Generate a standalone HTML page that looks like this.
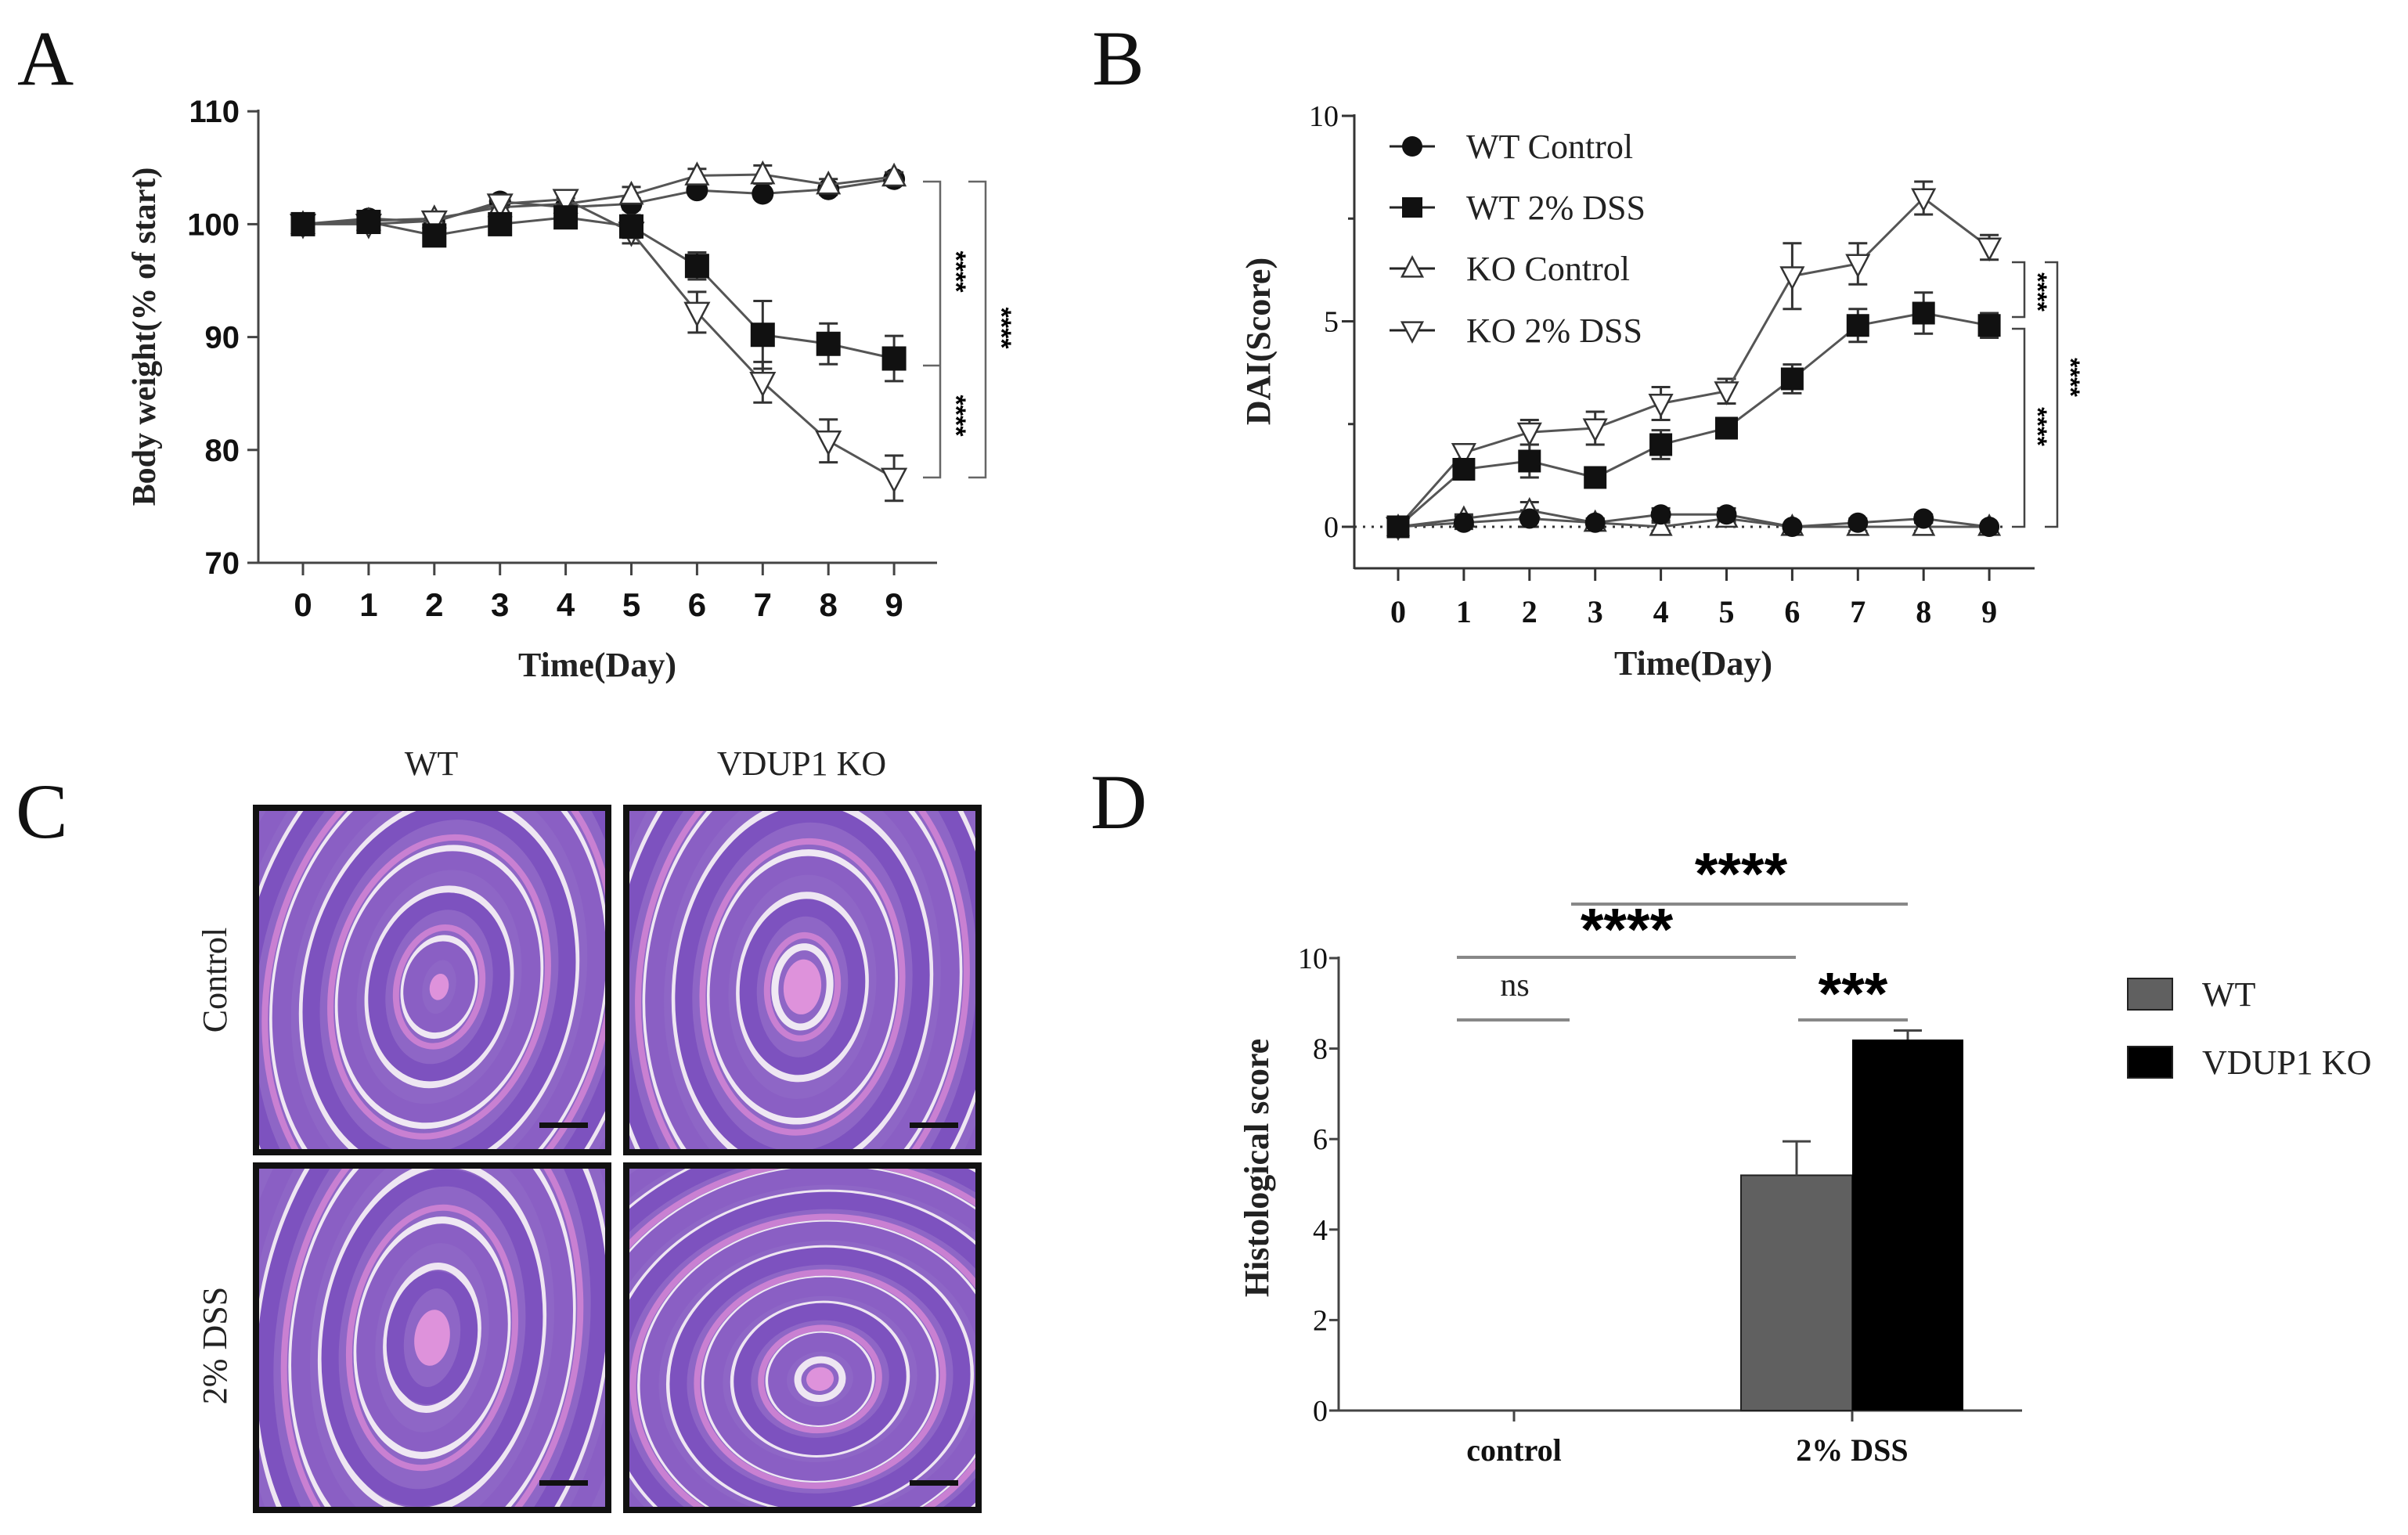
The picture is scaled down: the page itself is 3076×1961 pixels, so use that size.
<!DOCTYPE html>
<html><head><meta charset="utf-8"><style>
html,body{margin:0;padding:0;background:#fff;overflow:hidden;width:3076px;height:1961px}
svg{display:block}
.ser{font-family:"Liberation Serif",serif}
.nar{font-family:"Liberation Sans Narrow","Liberation Sans",sans-serif;font-weight:bold}
</style></head><body>
<svg id="fig" width="3076" height="1961" viewBox="0 0 3076 1961" xmlns="http://www.w3.org/2000/svg">
<rect width="3076" height="1961" fill="#fff"/>
<g class="ser" font-size="100" fill="#111">
<text x="22" y="108">A</text>
<text x="1395" y="108">B</text>
<text x="20" y="1070">C</text>
<text x="1393" y="1058">D</text>
</g>
<g id="pA"></g>
<g id="pB"></g>
<g id="pC"></g>
<g id="pD"></g>
</svg>
<script>
// ---- Panel A data ----
const days = [0,1,2,3,4,5,6,7,8,9];
const aWtCtrl = [100,100.5,100.2,102,101.5,101.8,103,102.7,103.1,104];
const aWtCtrlErr = [0,0.3,0.4,0.4,0.4,0.5,0.4,0.4,0.5,0.4];
const aWtDss = [100,100.2,99,100,100.6,99.8,96.3,90.2,89.4,88.1];
const aWtDssErr = [0,0.3,0.5,0.5,0.5,1,1.2,3,1.8,2];
const aKoCtrl = [100,100.3,100.5,101.5,101.8,102.6,104.3,104.4,103.5,104.2];
const aKoCtrlErr = [0,0.3,0.5,0.5,0.5,0.7,0.6,0.8,0.5,0.4];
const aKoDss = [100,100,100.3,101.8,102.2,99.3,92.2,86,80.8,77.5];
const aKoDssErr = [0,0.3,0.5,0.3,0.5,1,1.8,1.8,1.9,2];
const aYTicks = [70,80,90,100,110];
// ---- Panel B data ----
const bWtCtrl = [0,0.1,0.2,0.1,0.3,0.3,0,0.1,0.2,0];
const bWtCtrlErr = [0,0.15,0.2,0.1,0.15,0.15,0.05,0.1,0.1,0.05];
const bWtDss = [0,1.4,1.6,1.2,2.0,2.4,3.6,4.9,5.2,4.9];
const bWtDssErr = [0,0.2,0.4,0.2,0.35,0.2,0.35,0.4,0.5,0.3];
const bKoCtrl = [0,0.2,0.4,0.1,0,0.2,0,0,0,0];
const bKoCtrlErr = [0,0.1,0.2,0.1,0.1,0.1,0.05,0.1,0.1,0.05];
const bKoDss = [0,1.8,2.3,2.4,3.0,3.3,6.1,6.4,8.0,6.8];
const bKoDssErr = [0,0.2,0.3,0.4,0.4,0.3,0.8,0.5,0.4,0.3];
const bYTicks = [0,5,10];
const bLegend = ["WT Control","WT 2% DSS","KO Control","KO 2% DSS"];
// ---- Panel D data ----
const dCats = ["control","2% DSS"];
const dWt = [0,5.2];
const dWtErr = [0,0.75];
const dKo = [0,8.2];
const dKoErr = [0,0.2];
const dYTicks = [0,2,4,6,8,10];
const dLegend = ["WT","VDUP1 KO"];

const NS="http://www.w3.org/2000/svg";
function mk(parent,tag,attrs,text){const e=document.createElementNS(NS,tag);for(const k in attrs)e.setAttribute(k,attrs[k]);if(text!==undefined)e.textContent=text;parent.appendChild(e);return e;}
function marker(g,type,x,y,s){
  let e;
  if(type==="circle"){e=mk(g,"circle",{cx:x,cy:y,r:s*0.5,fill:"#111"});}
  else if(type==="square"){e=mk(g,"rect",{x:x-s/2,y:y-s/2,width:s,height:s,fill:"#111"});}
  else if(type==="up"){e=mk(g,"polygon",{points:`${x},${y-s*0.55} ${x-s*0.5},${y+s*0.4} ${x+s*0.5},${y+s*0.4}`,fill:"#fff",stroke:"#333","stroke-width":2.5});}
  else {e=mk(g,"polygon",{points:`${x},${y+s*0.55} ${x-s*0.5},${y-s*0.4} ${x+s*0.5},${y-s*0.4}`,fill:"#fff",stroke:"#333","stroke-width":2.5});}
  return e;
}
function series(g,name,xs,vals,errs,X,Y,type,s){
  const sg=mk(g,"g",{});
  
  
  for(let i=0;i<vals.length;i++){
    if(errs[i]>0){const x=X(xs[i]);
      mk(sg,"line",{x1:x,x2:x,y1:Y(vals[i]-errs[i]),y2:Y(vals[i]+errs[i]),stroke:"#333","stroke-width":3});
      mk(sg,"line",{x1:x-12,x2:x+12,y1:Y(vals[i]-errs[i]),y2:Y(vals[i]-errs[i]),stroke:"#333","stroke-width":3});
      mk(sg,"line",{x1:x-12,x2:x+12,y1:Y(vals[i]+errs[i]),y2:Y(vals[i]+errs[i]),stroke:"#333","stroke-width":3});}
  }
  mk(sg,"polyline",{points:vals.map((v,i)=>X(xs[i])+","+Y(v)).join(" "),fill:"none",stroke:"#555","stroke-width":3});
  for(let i=0;i<vals.length;i++){const m=marker(sg,type,X(xs[i]),Y(vals[i]),s);
    
    }
}
function stars(g,x,y,n,size,rot){
  const t=mk(g,"text",{x:x,y:y,"font-size":size,"font-family":"Liberation Sans, sans-serif","font-weight":"bold","text-anchor":"middle","dominant-baseline":"central",transform:rot?`rotate(90 ${x} ${y})`:""},"*".repeat(n));
  
  
}

// ===== Panel A =====
(function(){
  const g=document.getElementById("pA");
  const X=d=>387+d*83.9, Y=v=>719-(v-70)*14.42;
  mk(g,"line",{x1:330,x2:330,y1:140,y2:720,stroke:"#444","stroke-width":3});
  mk(g,"line",{x1:330,x2:1197,y1:719,y2:719,stroke:"#444","stroke-width":3});
  aYTicks.forEach(v=>{mk(g,"line",{x1:316,x2:330,y1:Y(v),y2:Y(v),stroke:"#444","stroke-width":3});
    const t=mk(g,"text",{x:306,y:Y(v)+14,"text-anchor":"end","font-size":40,class:"nar",fill:"#111"},v);
    });
  days.forEach(d=>{mk(g,"line",{x1:X(d),x2:X(d),y1:719,y2:735,stroke:"#444","stroke-width":3});
    const t=mk(g,"text",{x:X(d),y:787,"text-anchor":"middle","font-size":42,class:"nar",fill:"#111"},d);
    });
  const xt=mk(g,"text",{x:763,y:864,"text-anchor":"middle","font-size":44,"font-weight":"bold",class:"ser",fill:"#222"},"Time(Day)");
  
  const yt=mk(g,"text",{x:198,y:430,"text-anchor":"middle","font-size":42,"font-weight":"bold",class:"ser",fill:"#222",transform:"rotate(-90 198 430)"},"Body weight(% of start)");
  
  series(g,"wt-control-line",days,aWtCtrl,aWtCtrlErr,X,Y,"circle",28);
  series(g,"ko-control-line",days,aKoCtrl,aKoCtrlErr,X,Y,"up",28);
  series(g,"ko-dss-line",days,aKoDss,aKoDssErr,X,Y,"down",30);
  series(g,"wt-dss-line",days,aWtDss,aWtDssErr,X,Y,"square",31);
  const b=mk(g,"path",{d:"M1179 232H1201V610H1179M1179 467H1201",fill:"none",stroke:"#666","stroke-width":2.5});
  
  mk(g,"path",{d:"M1237 232H1259V610H1237",fill:"none",stroke:"#666","stroke-width":2.5});
  stars(g,1221,347,4,34,true);stars(g,1221,531,4,34,true);stars(g,1279,419,4,34,true);
})();

// ===== Panel B =====
(function(){
  const g=document.getElementById("pB");
  const X=d=>1786+d*83.9, Y=v=>673-v*52.5;
  mk(g,"line",{x1:1730,x2:1730,y1:146,y2:727,stroke:"#333","stroke-width":3});
  mk(g,"line",{x1:1730,x2:2599,y1:726,y2:726,stroke:"#333","stroke-width":3});
  [0,2.5,5,7.5,10].forEach(v=>mk(g,"line",{x1:v%5?1722:1714,x2:1730,y1:Y(v),y2:Y(v),stroke:"#333","stroke-width":3}));
  bYTicks.forEach(v=>{const t=mk(g,"text",{x:1710,y:Y(v)+13,"text-anchor":"end","font-size":38,class:"ser",fill:"#111"},v);
    });
  mk(g,"line",{x1:1730,x2:2560,y1:673,y2:673,stroke:"#333","stroke-width":3,"stroke-dasharray":"3 8"});
  days.forEach(d=>{mk(g,"line",{x1:X(d),x2:X(d),y1:726,y2:742,stroke:"#333","stroke-width":3});
    const t=mk(g,"text",{x:X(d),y:795,"text-anchor":"middle","font-size":40,"font-weight":"bold",class:"ser",fill:"#111"},d);
    });
  const xt=mk(g,"text",{x:2163,y:862,"text-anchor":"middle","font-size":44,"font-weight":"bold",class:"ser",fill:"#222"},"Time(Day)");
  
  const yt=mk(g,"text",{x:1622,y:436,"text-anchor":"middle","font-size":44,"font-weight":"bold",class:"ser",fill:"#222",transform:"rotate(-90 1622 436)"},"DAI(Score)");
  
  series(g,"ko-control-line",days,bKoCtrl,bKoCtrlErr,X,Y,"up",26);
  series(g,"wt-control-line",days,bWtCtrl,bWtCtrlErr,X,Y,"circle",26);
  series(g,"ko-dss-line",days,bKoDss,bKoDssErr,X,Y,"down",28);
  series(g,"wt-dss-line",days,bWtDss,bWtDssErr,X,Y,"square",29);
  const types=["circle","square","up","down"], ys=[187,265,343,422];
  bLegend.forEach((s,i)=>{const lg=mk(g,"g",{});
    
    mk(lg,"line",{x1:1775,x2:1833,y1:ys[i],y2:ys[i],stroke:"#222","stroke-width":3});
    marker(lg,types[i],1804,ys[i],26);
    mk(lg,"text",{x:1873,y:ys[i]+15,"font-size":44,class:"ser",fill:"#222"},s);});
  mk(g,"path",{d:"M2570 335H2586V405H2570",fill:"none",stroke:"#444","stroke-width":2.5});
  mk(g,"path",{d:"M2570 420H2586V673H2570",fill:"none",stroke:"#444","stroke-width":2.5});
  mk(g,"path",{d:"M2612 335H2628V673H2612",fill:"none",stroke:"#444","stroke-width":2.5});
  stars(g,2603,373,4,32,true);stars(g,2603,545,4,32,true);stars(g,2645,482,4,32,true);
})();

// ===== Panel C (histology micrographs, stylised) =====
(function(){
  const g=document.getElementById("pC");
  const t1=mk(g,"text",{x:551,y:990,"text-anchor":"middle","font-size":44,class:"ser",fill:"#222"},"WT");
  
  const t2=mk(g,"text",{x:1024,y:990,"text-anchor":"middle","font-size":44,class:"ser",fill:"#222"},"VDUP1 KO");
  
  const t3=mk(g,"text",{x:289,y:1252,"text-anchor":"middle","font-size":44,class:"ser",fill:"#222",transform:"rotate(-90 289 1252)"},"Control");
  
  const t4=mk(g,"text",{x:289,y:1719,"text-anchor":"middle","font-size":44,class:"ser",fill:"#222",transform:"rotate(-90 289 1719)"},"2% DSS");
  
  const boxes=[[327,1032,"wt-control",0.52,0.52,0.62,0.9,12],[800,1032,"ko-control",0.5,0.52,0.6,0.9,5],[327,1489,"wt-dss",0.5,0.5,0.55,0.9,8],[800,1489,"ko-dss",0.55,0.62,0.85,0.75,-8]];
  boxes.forEach((b,bi)=>{
    const [x0,y0,nm,fx,fy,frx,fry,rot]=b, w=450, h=440;
    const cg=mk(g,"g",{});
    
    const id="clip"+bi;
    const cp=mk(cg,"clipPath",{id:id});mk(cp,"rect",{x:x0,y:y0,width:w,height:h});
    const ig=mk(cg,"g",{"clip-path":`url(#${id})`});
    mk(ig,"rect",{x:x0,y:y0,width:w,height:h,fill:"#8e66c6"});
    const cx=x0+w*fx, cy=y0+h*fy;
    let rx=w*frx, ry=h*fry;
    const ratio=ry/rx;
    const cols=["#8a5fc4","#eee6f2","#7d52bf","#c980d2","#efe8f3"];
    const sws=[24,9,22,8,9];
    let k=0;
    while(rx>25){
      const c=cols[k%cols.length], sw=sws[k%sws.length];
      mk(ig,"ellipse",{cx:cx,cy:cy,rx:rx,ry:rx*ratio,fill:"none",stroke:c,"stroke-width":sw,transform:`rotate(${rot} ${cx} ${cy})`});
      rx-=sw+2; k++;
    }
    mk(ig,"ellipse",{cx:cx,cy:cy,rx:Math.max(rx,12),ry:Math.max(rx,12)*ratio,fill:"#de92db",transform:`rotate(${rot} ${cx} ${cy})`});
    mk(cg,"rect",{x:x0,y:y0,width:w,height:h,fill:"none",stroke:"#111","stroke-width":8});
    const sb=mk(cg,"rect",{x:x0+w-88,y:y0+h-38,width:62,height:7,fill:"#111"});
    
  });
})();

// ===== Panel D =====
(function(){
  const g=document.getElementById("pD");
  const Y=v=>1802-v*57.8, C=i=>1934+i*432;
  mk(g,"line",{x1:1710,x2:1710,y1:1222,y2:1803,stroke:"#444","stroke-width":3});
  mk(g,"line",{x1:1710,x2:2583,y1:1802,y2:1802,stroke:"#444","stroke-width":3});
  dYTicks.forEach(v=>{mk(g,"line",{x1:1698,x2:1710,y1:Y(v),y2:Y(v),stroke:"#444","stroke-width":3});
    const t=mk(g,"text",{x:1696,y:Y(v)+13,"text-anchor":"end","font-size":38,class:"ser",fill:"#111"},v);
    });
  dCats.forEach((c,i)=>{mk(g,"line",{x1:C(i),x2:C(i),y1:1802,y2:1816,stroke:"#444","stroke-width":3});
    const t=mk(g,"text",{x:C(i),y:1866,"text-anchor":"middle","font-size":40,"font-weight":"bold",class:"ser",fill:"#111"},c);
    
    const bw=142;
    if(dWt[i]>0){const r=mk(g,"rect",{x:C(i)-bw,y:Y(dWt[i]),width:bw,height:Y(0)-Y(dWt[i]),fill:"#606060",stroke:"#222","stroke-width":2});
      
      mk(g,"path",{d:`M${C(i)-bw/2} ${Y(dWt[i])}V${Y(dWt[i]+dWtErr[i])}M${C(i)-bw/2-18} ${Y(dWt[i]+dWtErr[i])}H${C(i)-bw/2+18}`,stroke:"#444","stroke-width":3,fill:"none"});}
    if(dKo[i]>0){const r=mk(g,"rect",{x:C(i),y:Y(dKo[i]),width:bw,height:Y(0)-Y(dKo[i]),fill:"#000"});
      
      mk(g,"path",{d:`M${C(i)+bw/2} ${Y(dKo[i])}V${Y(dKo[i]+dKoErr[i])}M${C(i)+bw/2-18} ${Y(dKo[i]+dKoErr[i])}H${C(i)+bw/2+18}`,stroke:"#444","stroke-width":3,fill:"none"});}
  });
  const yt=mk(g,"text",{x:1620,y:1492,"text-anchor":"middle","font-size":44,"font-weight":"bold",class:"ser",fill:"#222",transform:"rotate(-90 1620 1492)"},"Histological score");
  
  [[1861,2005,1303],[2297,2437,1303],[1861,2294,1223],[2007,2437,1155]].forEach(l=>{const e=mk(g,"line",{x1:l[0],x2:l[1],y1:l[2],y2:l[2],stroke:"#888","stroke-width":4});
    });
  const ns=mk(g,"text",{x:1935,y:1272,"text-anchor":"middle","font-size":42,class:"ser",fill:"#222"},"ns");
  
  stars(g,2367,1270,3,76,false);stars(g,2078,1188,4,76,false);stars(g,2224,1117,4,76,false);
  const lc=["#606060","#000"], ly=[1270,1357];
  dLegend.forEach((s,i)=>{const lg=mk(g,"g",{});
    
    mk(lg,"rect",{x:2718,y:ly[i]-20,width:57,height:40,fill:lc[i],stroke:"#222","stroke-width":2});
    mk(lg,"text",{x:2813,y:ly[i]+15,"font-size":44,class:"ser",fill:"#222"},s);});
})();
</script>
</body></html>
